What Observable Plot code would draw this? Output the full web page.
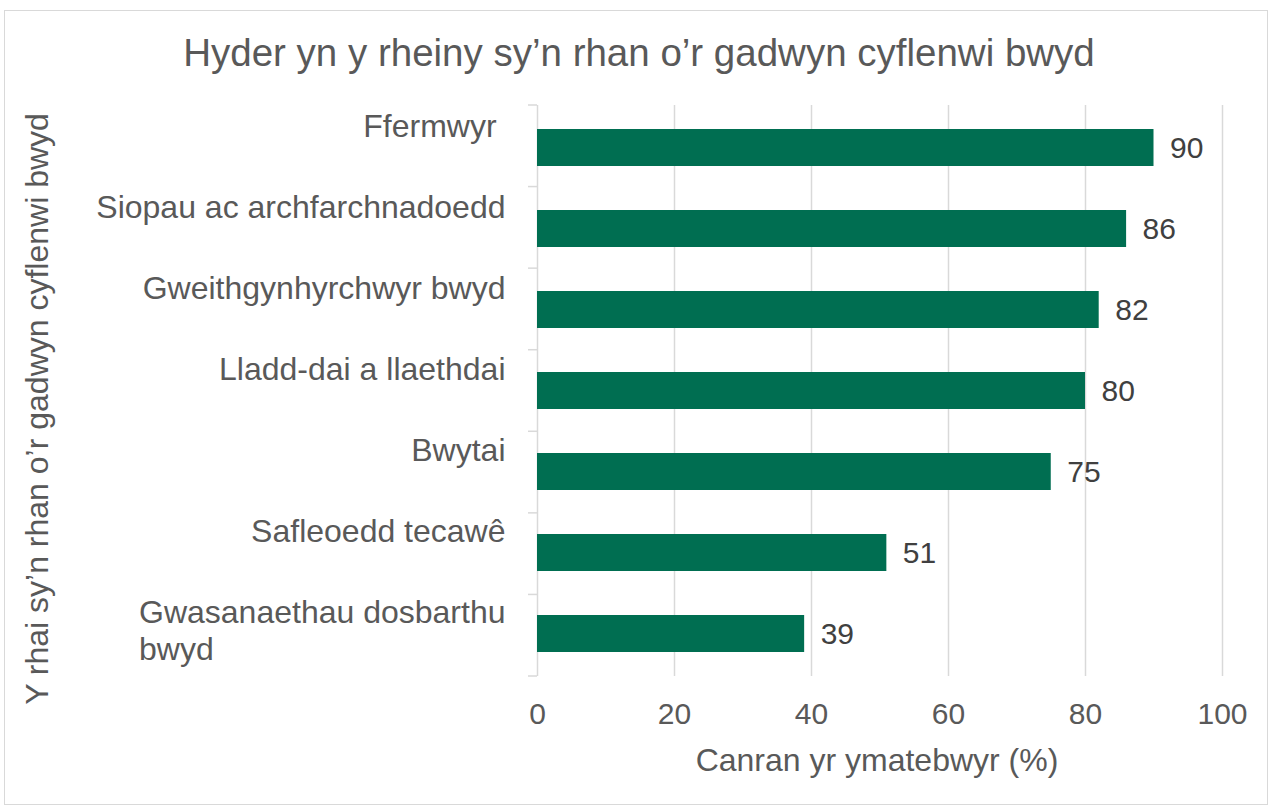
<!DOCTYPE html>
<html><head><meta charset="utf-8">
<script src="https://cdn.jsdelivr.net/npm/d3@7"></script>
<script src="https://cdn.jsdelivr.net/npm/@observablehq/plot@0.6"></script>
<style>
body{margin:0;background:#fff;}
#wrap{position:relative;width:1271px;height:807px;overflow:hidden}
#border{position:absolute;left:4px;top:10px;width:1264px;height:795px;border:1px solid #d9d9d9;box-sizing:border-box;pointer-events:none}
svg text{white-space:pre}
</style></head><body><div id="wrap"><div id="border"></div></div>
<script>
const categories = ["Ffermwyr", "Siopau ac archfarchnadoedd", "Gweithgynhyrchwyr bwyd", "Lladd-dai a llaethdai", "Bwytai", "Safleoedd tecawê", "Gwasanaethau dosbarthu bwyd"];
const tickLabels = ["Ffermwyr ", "Siopau ac archfarchnadoedd", "Gweithgynhyrchwyr bwyd", "Lladd-dai a llaethdai", "Bwytai", "Safleoedd tecawê", "Gwasanaethau dosbarthu\nbwyd"];
const values = [90, 86, 82, 80, 75, 51, 39];
const xTicks = [0, 20, 40, 60, 80, 100];
const title = "Hyder yn y rheiny sy’n rhan o’r gadwyn cyflenwi bwyd";
const xLabel = "Canran yr ymatebwyr (%)";
const yLabel = "Y rhai sy’n rhan o’r gadwyn cyflenwi bwyd";

const data = categories.map((c, i) => ({category: c, label: tickLabels[i], value: values[i]}));
const font = "'Liberation Sans', Arial, sans-serif";
const ctx = document.createElement("canvas").getContext("2d");
ctx.font = `32px ${font}`;

const labelMarks = data.map(d => {
  const lines = d.label.split("\n");
  const w = d3.max(lines, l => ctx.measureText(l).width);
  return Plot.text([d], {
    y: "category", text: "label", frameAnchor: "left", textAnchor: "start",
    lineAnchor: "middle", lineHeight: 1.15, dx: -32 - w, dy: lines.length > 1 ? -4 : -23,
    fontSize: 32, fill: "#595959"
  });
});

const plot = Plot.plot({
  width: 1271, height: 807,
  marginLeft: 537, marginRight: 49, marginTop: 105, marginBottom: 131,
  style: {fontFamily: font, background: "transparent"},
  x: {domain: [0, 100], label: null},
  y: {domain: categories, paddingInner: 0.546, paddingOuter: 0.273, axis: null},
  marks: [
    Plot.ruleX(xTicks, {stroke: "#d9d9d9", strokeWidth: 1.5}),
    Plot.barX(data, {y: "category", x: "value", fill: "#006E51"}),
    Plot.text(data, {y: "category", x: "value", text: d => String(d.value), textAnchor: "start", dx: 16, fontSize: 30, fill: "#404040"}),
    Plot.axisX(xTicks, {tickSize: 0, tickPadding: 26, fontSize: 30, fill: "#595959", label: null}),
    ...labelMarks,
    Plot.text([xLabel], {text: d => d, frameAnchor: "bottom", textAnchor: "middle", lineAnchor: "middle", dx: -3, dy: 84, fontSize: 32, fill: "#595959"}),
    Plot.text([yLabel], {text: d => d, frameAnchor: "left", textAnchor: "middle", rotate: -90, lineAnchor: "middle", dx: -500, dy: 18, fontSize: 32, fill: "#595959"}),
    Plot.text([title], {text: d => d, frameAnchor: "top", textAnchor: "middle", lineAnchor: "middle", dx: -241, dy: -52, fontSize: 38.5, fill: "#595959"})
  ]
});

// band-boundary tick marks on the category axis
const ys = plot.scale("y");
const [r0, r1] = ys.range;
const n = categories.length;
const x0 = plot.scale("x").apply(0);
const g = d3.select(plot).append("g").attr("stroke", "#d9d9d9").attr("stroke-width", 1.5);
g.selectAll("line").data(d3.range(n + 1)).join("line")
  .attr("x1", x0 - 9).attr("x2", x0)
  .attr("y1", i => r0 + i * (r1 - r0) / n).attr("y2", i => r0 + i * (r1 - r0) / n);

document.getElementById("wrap").prepend(plot);
</script></body></html>
